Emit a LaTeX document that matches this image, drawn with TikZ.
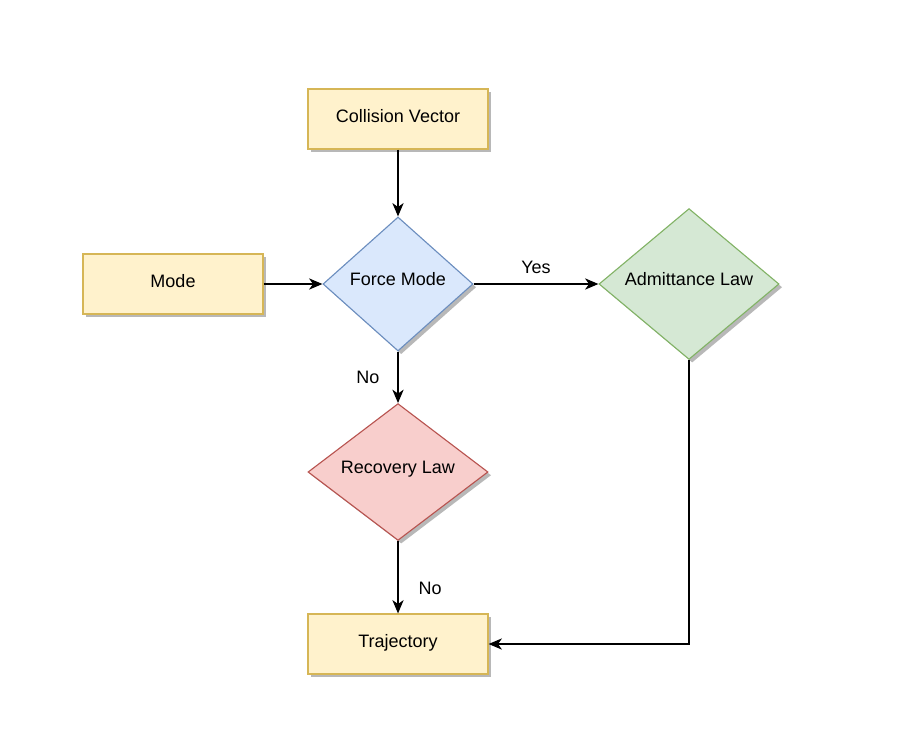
\documentclass[tikz,border=0pt]{standalone}
\usepackage{fontspec}
\setmainfont{Liberation Sans}
\usetikzlibrary{shapes.geometric, arrows.meta, shadows}

\definecolor{yelfill}{HTML}{FFF2CC}
\definecolor{yelline}{HTML}{D6B656}
\definecolor{bluefill}{HTML}{DAE8FC}
\definecolor{blueline}{HTML}{6C8EBF}
\definecolor{greenfill}{HTML}{D5E8D4}
\definecolor{greenline}{HTML}{82B366}
\definecolor{redfill}{HTML}{F8CECC}
\definecolor{redline}{HTML}{B85450}

\tikzset{
  lbl/.style={font=\fontsize{12.8pt}{15pt}\selectfont},
  shade3/.style={drop shadow={fill=black!28, opacity=1, shadow xshift=0.08cm, shadow yshift=-0.08cm}},
  block/.style={lbl, rectangle, draw=yelline, fill=yelfill, line width=0.8pt, shade3,
    minimum width=4.5cm, minimum height=1.5cm, text height=9pt, text depth=4pt},
  decide/.style={lbl, diamond, line width=0.8pt, shade3, inner sep=0pt,
    text height=9pt, text depth=7.2pt},
  flow/.style={line width=0.9pt, -{Stealth[length=9.5pt, width=8pt, inset=2.8pt]}}
}

\begin{document}
\begin{tikzpicture}[x=0.025cm, y=-0.025cm]
\useasboundingbox (0,0) rectangle (898,730);

\node [block] (coll) at (398,119) {Collision Vector};
\node [block] (mode) at (173,284) {Mode};
\node [decide, draw=blueline, fill=bluefill, minimum width=3.75cm, minimum height=3.35cm] (force) at (398,284) {Force Mode};
\node [decide, draw=greenline, fill=greenfill, minimum width=4.5cm, minimum height=3.7cm] (admit) at (689,284) {Admittance Law};
\node [decide, draw=redline, fill=redfill, minimum width=4.5cm, minimum height=3.4cm] (recov) at (398,472) {Recovery Law};
\node [block] (traj) at (398,644) {Trajectory};

% arrows
\draw [flow] (coll) -- (force);
\draw [flow] (mode) -- (force);
\draw [flow] (force) -- node [lbl, midway, above=0.25cm, inner sep=0pt] {Yes} (admit);
\draw [flow] (force) -- node [lbl, midway, left=0.45cm, inner sep=0pt] {No} (recov);
\draw [flow] (recov) -- node [lbl, pos=0.65, right=0.5cm, inner sep=0pt] {No} (traj);
\draw [flow] (admit.south) |- (traj.east);
\end{tikzpicture}
\end{document}
